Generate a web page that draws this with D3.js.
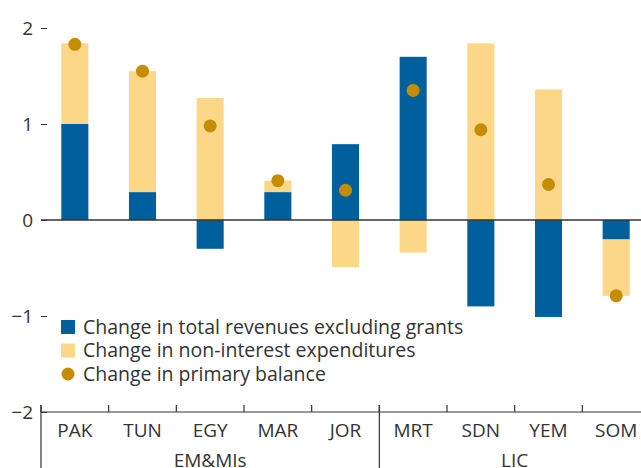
<!DOCTYPE html>
<html>
<head>
<meta charset="utf-8">
<script src="https://cdn.jsdelivr.net/npm/d3@7"></script>
<style>
  body { margin: 0; background: #fff; }
  svg { display: block; font-family: "Open Sans", sans-serif; }
</style>
</head>
<body>
<div id="chart"></div>
<script>
// categories and groups
var countries = ["PAK", "TUN", "EGY", "MAR", "JOR", "MRT", "SDN", "YEM", "SOM"];
var groups = [
  {name: "EM&MIs", from: "PAK", to: "JOR"},
  {name: "LIC", from: "MRT", to: "SOM"}
];

// series
var revenues = [1.00, 0.29, -0.30, 0.29, 0.79, 1.70, -0.90, -1.01, -0.20];
var expenditures = [0.84, 1.26, 1.27, 0.12, -0.49, -0.34, 1.84, 1.36, -0.59];
var balance = [1.83, 1.55, 0.98, 0.41, 0.31, 1.35, 0.94, 0.37, -0.79];

var yTicks = [-2, -1, 0, 1, 2];
var legendItems = [
  {label: "Change in total revenues excluding grants", type: "rect", color: "#00609E"},
  {label: "Change in non-interest expenditures", type: "rect", color: "#FCD788"},
  {label: "Change in primary balance", type: "dot", color: "#C58D05"}
];

var W = 641, H = 468;
var textColor = "#333333";

var svg = d3.select("#chart").append("svg")
    .attr("width", W)
    .attr("height", H);

// scales
var x = d3.scaleBand()
    .domain(countries)
    .range([41, 650])
    .paddingInner(0.6)
    .paddingOuter(0.3);

var y = d3.scaleLinear()
    .domain([-2, 2])
    .range([412, 28]);

// stacked data (diverging)
var table = countries.map(function(c, i) {
  return {country: c, rev: revenues[i], exp: expenditures[i], bal: balance[i]};
});
var stack = d3.stack().keys(["rev", "exp"]).offset(d3.stackOffsetDiverging);
var series = stack(table);
var colors = {rev: "#00609E", exp: "#FCD788"};

// draw expenditures first so revenues sit on top at overlaps
svg.selectAll("g.series")
  .data(series.slice().reverse())
  .enter().append("g")
    .attr("class", "series")
    .attr("fill", function(d) { return colors[d.key]; })
  .selectAll("rect")
  .data(function(d) { return d; })
  .enter().append("rect")
    .attr("x", function(d) { return x(d.data.country); })
    .attr("width", x.bandwidth())
    .attr("y", function(d) { return y(Math.max(d[0], d[1])); })
    .attr("height", function(d) { return Math.abs(y(d[0]) - y(d[1])); });

// zero line
svg.append("line")
    .attr("x1", 41).attr("x2", W)
    .attr("y1", y(0)).attr("y2", y(0))
    .attr("stroke", "#333")
    .attr("stroke-width", 1.5);

// primary balance dots
svg.selectAll("circle.bal")
  .data(table)
  .enter().append("circle")
    .attr("class", "bal")
    .attr("cx", function(d) { return x(d.country) + x.bandwidth() / 2; })
    .attr("cy", function(d) { return y(d.bal); })
    .attr("r", 6.5)
    .attr("fill", "#C58D05");

// y axis (labels + short ticks, no domain line)
var yAxis = svg.append("g")
    .attr("transform", "translate(47,0)")
    .call(d3.axisLeft(y)
      .tickValues(yTicks)
      .tickSize(6)
      .tickPadding(8)
      .tickFormat(function(d) { return d < 0 ? "\u2212" + Math.abs(d) : d; }));
yAxis.select(".domain").remove();
yAxis.selectAll("line").attr("stroke", textColor);
yAxis.selectAll("text")
    .attr("fill", textColor)
    .style("font-size", "19px")
    .style("font-family", "'Open Sans', sans-serif");

// x axis line and band ticks
var step = x.step();
var x0 = 41;
svg.append("line")
    .attr("x1", x0).attr("x2", W)
    .attr("y1", 412).attr("y2", 412)
    .attr("stroke", textColor)
    .attr("stroke-width", 1.2);

var bounds = d3.range(countries.length + 1).map(function(i) { return x0 + i * step; });
svg.selectAll("line.xtick")
  .data(bounds)
  .enter().append("line")
    .attr("class", "xtick")
    .attr("x1", function(d) { return d; })
    .attr("x2", function(d) { return d; })
    .attr("y1", 405)
    .attr("y2", 412)
    .attr("stroke", textColor)
    .attr("stroke-width", 1.2);

// category labels
svg.selectAll("text.cat")
  .data(countries)
  .enter().append("text")
    .attr("class", "cat")
    .attr("x", function(d) { return x(d) + x.bandwidth() / 2; })
    .attr("y", 437)
    .attr("text-anchor", "middle")
    .attr("fill", textColor)
    .style("font-size", "19px")
    .text(function(d) { return d; });

// group separators and labels
groups.forEach(function(g, i) {
  var left = x(g.from) - x.step() * x.paddingInner() / 2;
  var right = x(g.to) + x.bandwidth() + x.step() * x.paddingInner() / 2;
  svg.append("line")
      .attr("x1", left).attr("x2", left)
      .attr("y1", 405).attr("y2", H)
      .attr("stroke", textColor)
      .attr("stroke-width", 1.2);
  svg.append("text")
      .attr("x", (left + right) / 2)
      .attr("y", 467)
      .attr("text-anchor", "middle")
      .attr("fill", textColor)
      .style("font-size", "19px")
      .text(g.name);
});

// legend
var legend = svg.append("g").attr("transform", "translate(61,327)");
legendItems.forEach(function(item, i) {
  var row = legend.append("g").attr("transform", "translate(0," + (i * 23.5) + ")");
  if (item.type == "rect") {
    row.append("rect")
        .attr("x", 0).attr("y", -7)
        .attr("width", 14).attr("height", 14)
        .attr("fill", item.color);
  } else {
    row.append("circle")
        .attr("cx", 7).attr("cy", 0)
        .attr("r", 6.5)
        .attr("fill", item.color);
  }
  row.append("text")
      .attr("x", 22)
      .attr("y", 0)
      .attr("dy", "0.35em")
      .attr("fill", textColor)
      .style("font-size", "19.5px")
      .text(item.label);
});
</script>
</body>
</html>
